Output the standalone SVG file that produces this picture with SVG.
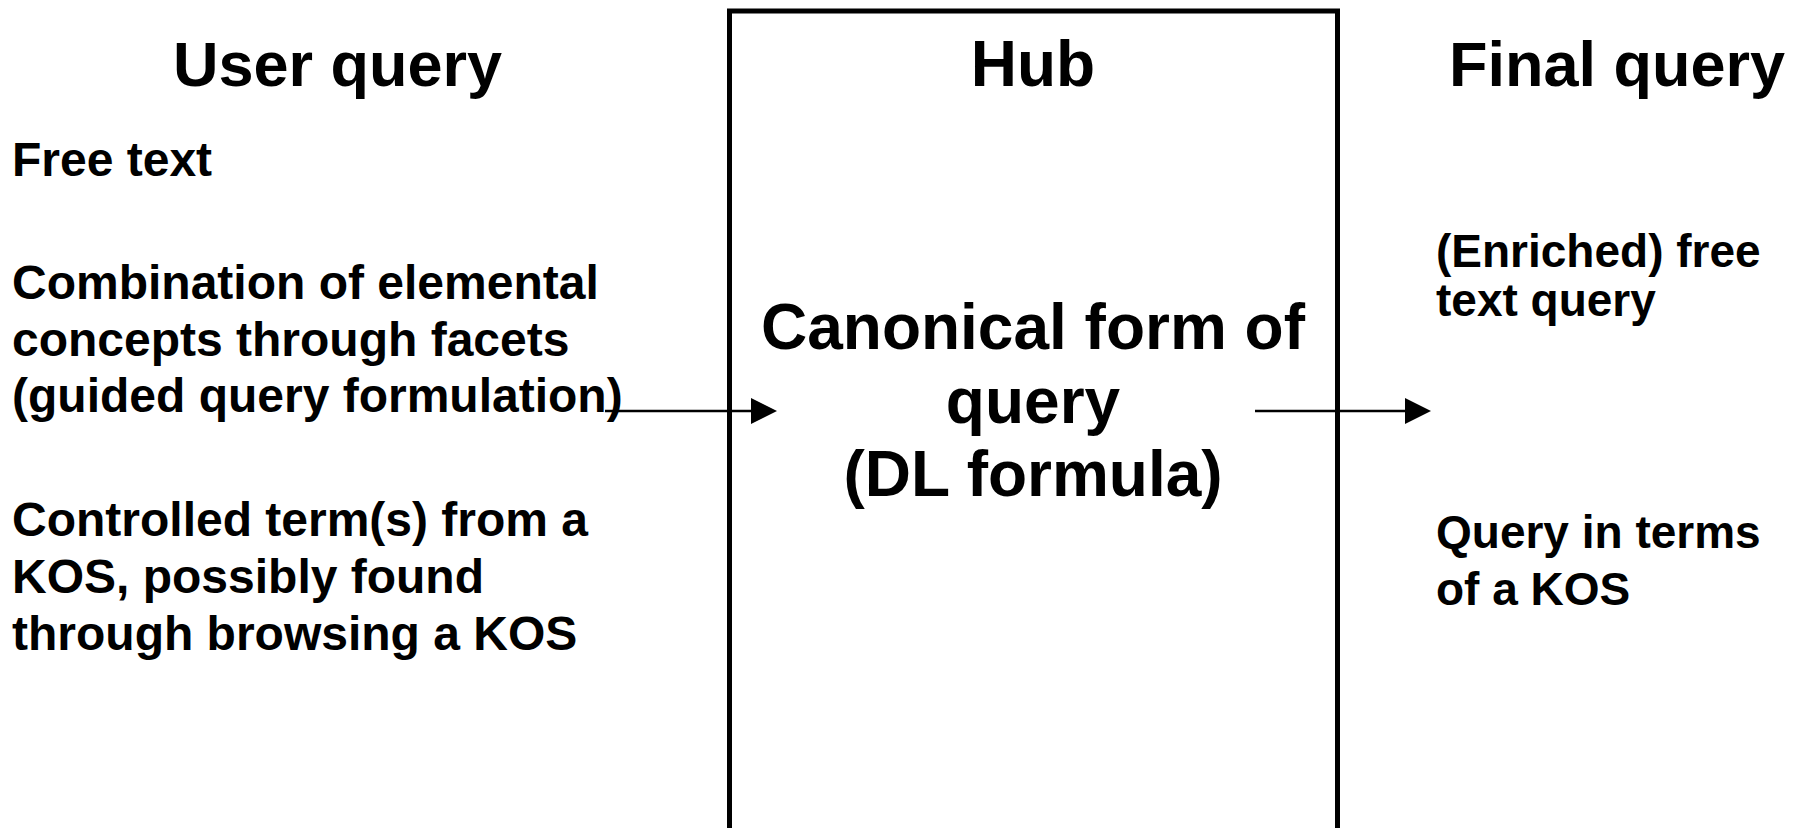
<svg xmlns="http://www.w3.org/2000/svg" width="1806" height="828" viewBox="0 0 1806 828">
  <style>
    text { font-family: "Liberation Sans", Arial, sans-serif; font-weight: bold; fill: #000; }
    .title { font-size: 63px; }
    .center { font-size: 64px; text-anchor: middle; }
    .left { font-size: 48px; }
    .right { font-size: 46px; }
    .box { fill: none; stroke: #000; stroke-width: 5; }
    .conn { stroke: #000; stroke-width: 2.5; fill: none; }
    .head { fill: #000; stroke: none; }
  </style>
  <rect x="0" y="0" width="1806" height="828" fill="#fff"/>

  <g id="user-query">
    <text class="title" x="173" y="86">User query</text>
    <text class="left" x="12" y="176">Free text</text>
    <text class="left" x="12" y="299">Combination of elemental</text>
    <text class="left" x="12" y="356">concepts through facets</text>
    <text class="left" x="12" y="412">(guided query formulation)</text>
    <text class="left" x="12" y="536">Controlled term(s) from a</text>
    <text class="left" x="12" y="593">KOS, possibly found</text>
    <text class="left" x="12" y="650">through browsing a KOS</text>
  </g>

  <g id="hub">
    <path class="box" d="M729.5,840 V11 H1337.5 V840"/>
    <text class="center" x="1033" y="86">Hub</text>
    <text class="center" x="1033" y="349">Canonical form of</text>
    <text class="center" x="1033" y="423">query</text>
    <text class="center" x="1033" y="496">(DL formula)</text>
  </g>

  <g id="final-query">
    <text class="title" x="1449" y="86">Final query</text>
    <text class="right" x="1436" y="267">(Enriched) free</text>
    <text class="right" x="1436" y="316">text query</text>
    <text class="right" x="1436" y="548">Query in terms</text>
    <text class="right" x="1436" y="605">of a KOS</text>
  </g>

  <g id="connectors">
    <line class="conn" x1="605" y1="411" x2="752" y2="411"/>
    <polygon class="head" points="751,398 777,411 751,424"/>
    <line class="conn" x1="1255" y1="411" x2="1406" y2="411"/>
    <polygon class="head" points="1405,398 1431,411 1405,424"/>
  </g>
</svg>
